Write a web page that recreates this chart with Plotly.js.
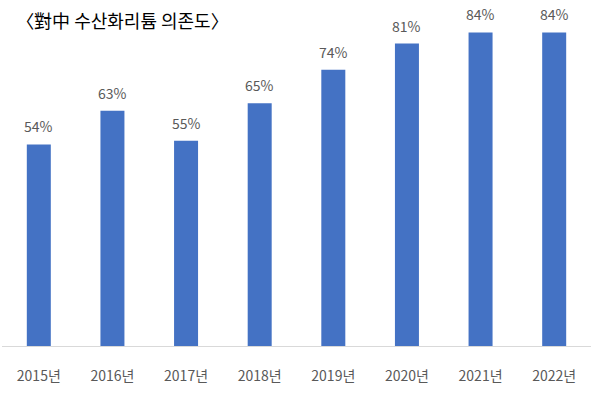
<!DOCTYPE html>
<html><head><meta charset="utf-8">
<script src="https://cdn.plot.ly/plotly-3.0.1.min.js"></script>
<style>html,body{margin:0;padding:0;background:#fff}</style>
</head><body>
<div id="chart" style="width:600px;height:399px"></div>
<script>
const years = ['2015년','2016년','2017년','2018년','2019년','2020년','2021년','2022년'];
const values = [54, 63, 55, 65, 74, 81, 84, 84];
const titleText = '〈對中 수산화리튬 의존도〉';
const labelFont = {family: '"Noto Sans CJK KR", "Noto Sans", sans-serif', size: 14, color: '#595959'};

const trace = {
  type: 'bar', x: years, y: values,
  marker: {color: '#4472C4'},
  hoverinfo: 'none'
};
const annotations = years.map((c, i) => ({
  x: c, y: values[i], xref: 'x', yref: 'y',
  text: values[i] + '%', showarrow: false,
  yanchor: 'middle', yshift: 18, font: labelFont
}));
const layout = {
  width: 600, height: 399,
  margin: {l: 2, r: 9, t: 10, b: 53},
  paper_bgcolor: '#fff', plot_bgcolor: '#fff',
  bargap: 0.674,
  showlegend: false,
  title: {text: titleText, x: 0.024, xanchor: 'left', xref: 'paper', y: 0.945, yref: 'container', yanchor: 'middle',
          font: {family: '"Noto Sans CJK KR", sans-serif', size: 18, color: '#000'}},
  xaxis: {type: 'category', range: [-0.5, 7.5], showgrid: false, zeroline: false,
          showline: true, linecolor: '#d9d9d9', linewidth: 1, ticks: '',
          tickfont: labelFont, ticklabelstandoff: 17},
  yaxis: {range: [0, 90], visible: false, showgrid: false, zeroline: false},
  annotations: annotations
};
Plotly.newPlot('chart', [trace], layout, {displayModeBar: false, staticPlot: true});
</script>
</body></html>
